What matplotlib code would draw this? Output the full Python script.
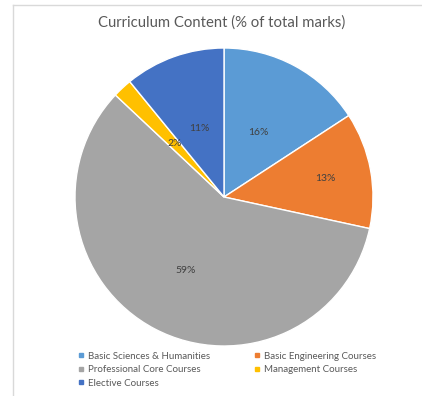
import numpy as np
import matplotlib.pyplot as plt
from matplotlib.lines import Line2D

# data
categories = [
    "Basic Sciences & Humanities",
    "Basic Engineering Courses",
    "Professional Core Courses",
    "Management Courses",
    "Elective Courses",
]
shares = [15.8, 12.6, 58.6, 2.1, 10.9]
colors = ["#5B9BD5", "#ED7D31", "#A5A5A5", "#FFC000", "#4472C4"]
label_radius = [0.49, 0.69, 0.56, 0.49, 0.49]

plt.rcParams["font.family"] = ["Lato", "DejaVu Sans"]

fig = plt.figure(figsize=(4.22, 3.96), dpi=100)
ax = fig.add_axes([75 / 422, 50 / 396, 298 / 422, 298 / 396])

wedges, _ = ax.pie(
    shares,
    colors=colors,
    startangle=90,
    counterclock=False,
    wedgeprops=dict(edgecolor="white", linewidth=1.0),
)
ax.set_xlim(-1, 1)
ax.set_ylim(-1, 1)
ax.set_aspect("equal")
ax.axis("off")

# percentage labels
for w, v, r in zip(wedges, shares, label_radius):
    ang = np.deg2rad((w.theta1 + w.theta2) / 2)
    ax.text(r * np.cos(ang), r * np.sin(ang), f"{v:.0f}%",
            ha="center", va="center", fontsize=7.5, color="#404040")

fig.text(222 / 422, 1 - 23 / 396, "Curriculum Content (% of total marks)",
         ha="center", va="center", fontsize=10.7, color="#595959")

# legend fills row by row like the original
order = [0, 2, 4, 1, 3]
handles = [Line2D([], [], marker="s", linestyle="none", markersize=3.5,
                  markerfacecolor=colors[i], markeredgecolor=colors[i])
           for i in order]
leg = fig.legend(handles, [categories[i] for i in order], ncol=2,
                 loc="upper left", bbox_to_anchor=(74 / 422, 1 - 348 / 396),
                 frameon=False, fontsize=7, handlelength=0.6,
                 handletextpad=0.4, columnspacing=4.6, labelspacing=0.45,
                 borderaxespad=0)
for t in leg.get_texts():
    t.set_color("#595959")

# faint frame lines
fig.add_artist(Line2D([13 / 422, 13 / 422], [0, 1 - 5 / 396],
                      transform=fig.transFigure, color="#D9D9D9", lw=1))
fig.add_artist(Line2D([13 / 422, 1], [1 - 5 / 396, 1 - 5 / 396],
                      transform=fig.transFigure, color="#D9D9D9", lw=1))

fig.savefig("out.png", dpi=100, facecolor="white")
